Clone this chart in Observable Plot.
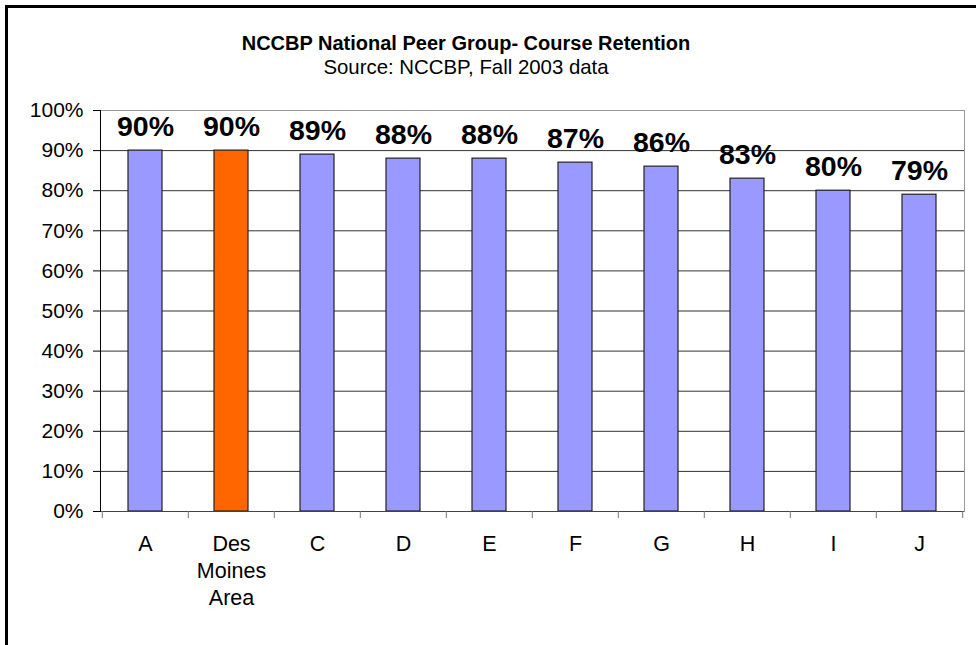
<!DOCTYPE html>
<html><head><meta charset="utf-8">
<script src="https://cdn.jsdelivr.net/npm/d3@7"></script>
<script src="https://cdn.jsdelivr.net/npm/@observablehq/plot@0.6"></script>
<style>
body{margin:0;background:#fff;font-family:"Liberation Sans",Arial,sans-serif;}
#wrap{position:relative;width:976px;height:645px;overflow:hidden;background:#fff;}
#border{position:absolute;left:5px;top:5px;width:1000px;height:700px;border-left:3px solid #000;border-top:3px solid #000;box-sizing:border-box;pointer-events:none;}
#head{position:relative;height:90px;}
#title{position:absolute;left:0;width:932px;top:33px;text-align:center;font-weight:bold;font-size:20px;line-height:20px;color:#000;}
#subtitle{position:absolute;left:0;width:932px;top:57px;text-align:center;font-size:20.4px;line-height:20px;color:#000;}
#chart svg{display:block;}
</style></head>
<body>
<div id="wrap">
  <div id="head">
    <div id="title">NCCBP National Peer Group- Course Retention</div>
    <div id="subtitle">Source: NCCBP, Fall 2003 data</div>
  </div>
  <div id="chart"></div>
  <div id="border"></div>
</div>
<script>
const categories = ["A", "Des Moines Area", "C", "D", "E", "F", "G", "H", "I", "J"];
const categoryLabels = ["A", "Des\nMoines\nArea", "C", "D", "E", "F", "G", "H", "I", "J"];
const values = [0.90, 0.90, 0.89, 0.88, 0.88, 0.87, 0.86, 0.83, 0.80, 0.79];
const highlighted = ["Des Moines Area"];
const yTicks = [0, 0.1, 0.2, 0.3, 0.4, 0.5, 0.6, 0.7, 0.8, 0.9, 1.0];

const data = categories.map((c, i) => ({cat: c, value: values[i]}));
const W = 976, H = 555, mL = 100, mR = 12, mT = 20, mB = 134;
const step = (W - mL - mR) / categories.length;
const pct = d => Math.round(d * 100) + "%";
const font = "'Liberation Sans', Arial, sans-serif";

const chart = Plot.plot({
  width: W, height: H,
  marginTop: mT, marginBottom: mB, marginLeft: mL, marginRight: mR,
  style: {fontFamily: font, background: "white", color: "#000", overflow: "visible"},
  x: {domain: categories, paddingInner: 0.6, paddingOuter: 0.3, label: null},
  y: {domain: [0, 1], label: null},
  marks: [
    Plot.gridY(yTicks, {stroke: "#333", strokeOpacity: 1}),
    Plot.frame({anchor: "top", stroke: "#999"}),
    Plot.frame({anchor: "right", stroke: "#999"}),
    Plot.barY(data.filter(d => !highlighted.includes(d.cat)), {x: "cat", y: "value", fill: "#9999ff", stroke: "#222", strokeWidth: 1.2}),
    Plot.barY(data.filter(d => highlighted.includes(d.cat)), {x: "cat", y: "value", fill: "#ff6600", stroke: "#222", strokeWidth: 1.2}),
    Plot.ruleY([0], {stroke: "#444"}),
    Plot.frame({anchor: "left", stroke: "#000"}),
    Plot.axisY(yTicks, {label: null, tickSize: 7, tickPadding: 10, tickFormat: pct, fontSize: 21, stroke: "#000"}),
    Plot.axisX({label: null, tickSize: 0, tickPadding: 21, fontSize: 21.5, lineHeight: 1.24,
      tickFormat: d => categoryLabels[categories.indexOf(d)]}),
    Plot.ruleX(categories, {x: d => d, dx: -step / 2, y1: 0, y2: -7 / (H - mT - mB), stroke: "#777"}),
    Plot.ruleX(categories.slice(-1), {x: d => d, dx: step / 2, y1: 0, y2: -7 / (H - mT - mB), stroke: "#777"}),
    Plot.text(data, {x: "cat", y: "value", text: d => pct(d.value), dy: -15, lineAnchor: "bottom",
      fontSize: 28.5, fontWeight: "bold", fill: "#000"})
  ]
});
document.getElementById("chart").appendChild(chart);
</script>
</body></html>
